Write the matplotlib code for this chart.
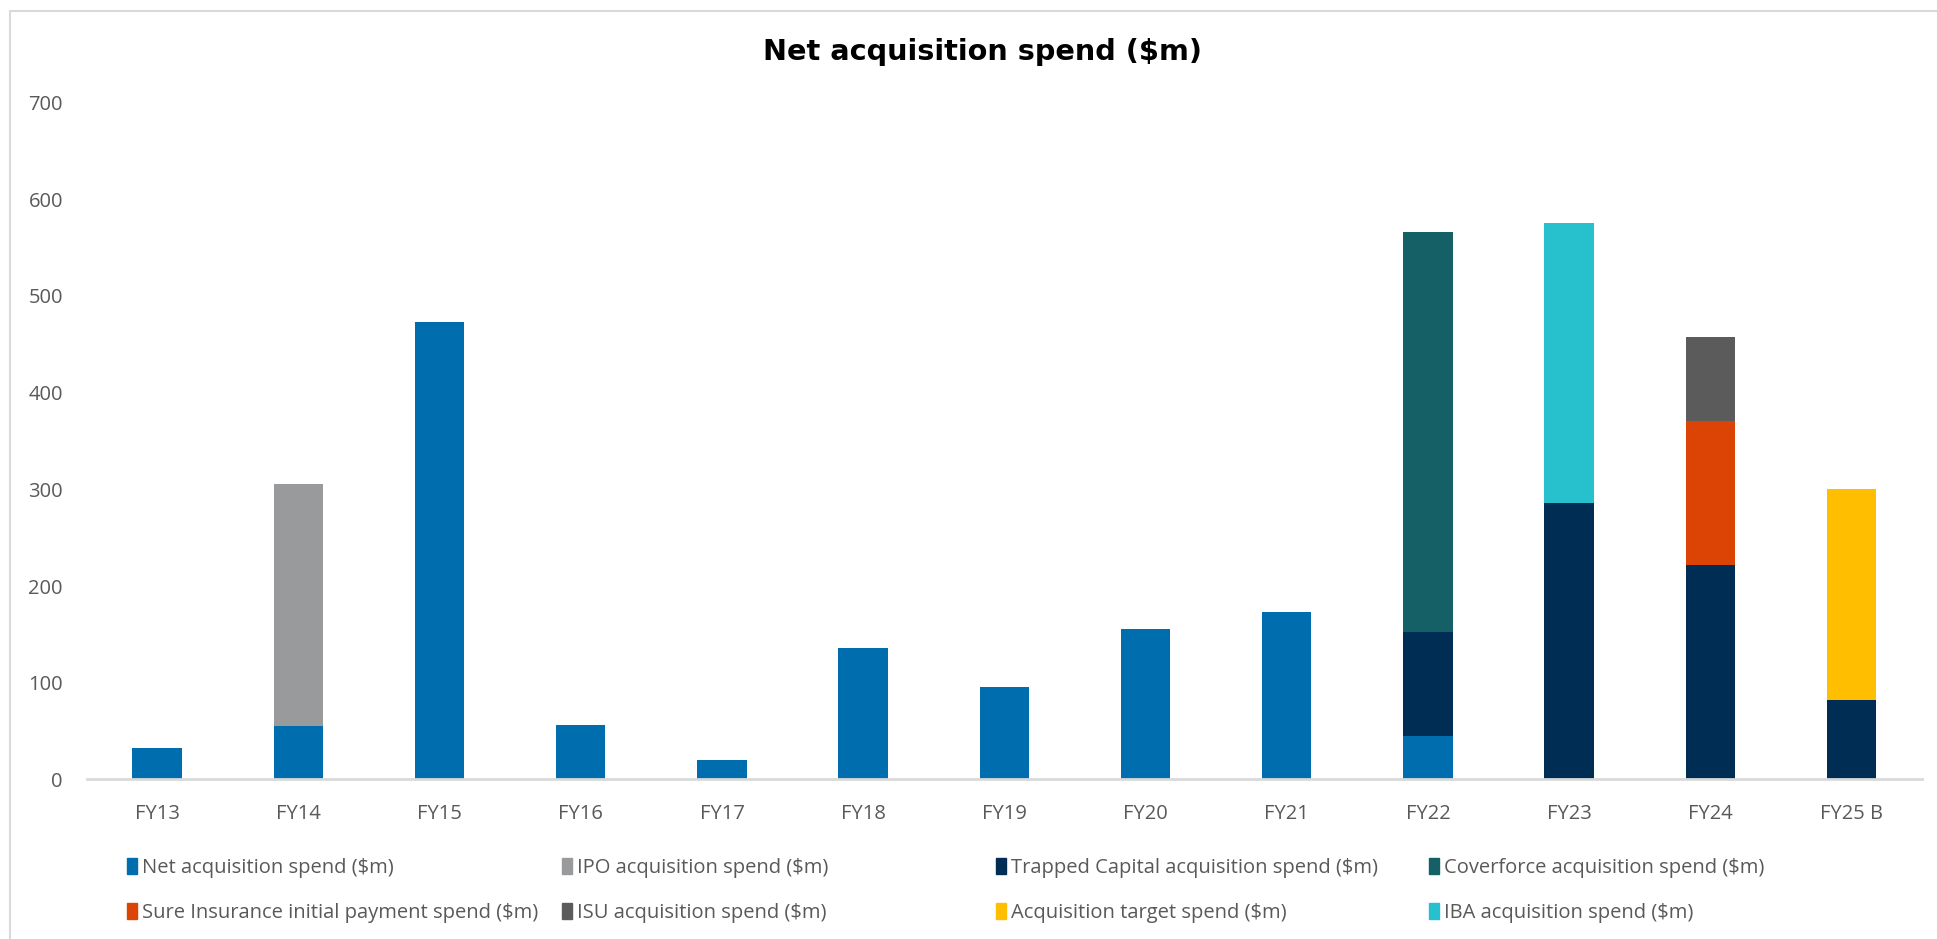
import matplotlib.pyplot as plt
import matplotlib.patches as mpatches
import numpy as np

years = ["FY13", "FY14", "FY15", "FY16", "FY17", "FY18", "FY19",
         "FY20", "FY21", "FY22", "FY23", "FY24", "FY25 B"]

net_spend = [33, 55, 473, 56, 20, 136, 96, 156, 173, 45, 0, 0, 0]
ipo_spend = [0, 251, 0, 0, 0, 0, 0, 0, 0, 0, 0, 0, 0]
trapped_spend = [0, 0, 0, 0, 0, 0, 0, 0, 0, 108, 286, 222, 82]
coverforce_spend = [0, 0, 0, 0, 0, 0, 0, 0, 0, 413, 0, 0, 0]
sure_spend = [0, 0, 0, 0, 0, 0, 0, 0, 0, 0, 0, 149, 0]
isu_spend = [0, 0, 0, 0, 0, 0, 0, 0, 0, 0, 0, 87, 0]
target_spend = [0, 0, 0, 0, 0, 0, 0, 0, 0, 0, 0, 0, 218]
iba_spend = [0, 0, 0, 0, 0, 0, 0, 0, 0, 0, 289, 0, 0]

# stacking order bottom -> top, legend order follows the same list
series = [
    ("Net acquisition spend ($m)", net_spend, "#006DAE"),
    ("IPO acquisition spend ($m)", ipo_spend, "#999A9C"),
    ("Trapped Capital acquisition spend ($m)", trapped_spend, "#002D54"),
    ("Coverforce acquisition spend ($m)", coverforce_spend, "#146066"),
    ("Sure Insurance initial payment spend ($m)", sure_spend, "#DC4405"),
    ("ISU acquisition spend ($m)", isu_spend, "#5B5B5B"),
    ("Acquisition target spend ($m)", target_spend, "#FFBE00"),
    ("IBA acquisition spend ($m)", iba_spend, "#26C1CC"),
]

font = "Open Sans"
grey = "#595959"

fig = plt.figure(figsize=(19.37, 9.39), dpi=100)
ax = fig.add_axes([0.0447, 0.1699, 0.9476, 0.7209])

x = np.arange(len(years))
bottom = np.zeros(len(years))
handles = []
for label, values, color in series:
    values = np.array(values, dtype=float)
    ax.bar(x, values, 0.35, bottom=bottom, color=color, linewidth=0)
    bottom += values
    handles.append(mpatches.Patch(color=color, label=label))

ax.set_xlim(-0.5, len(years) - 0.5)
ax.set_ylim(0, 700)
ax.set_yticks(range(0, 701, 100))
ax.set_xticks(x)
ax.set_xticklabels(years)

for side in ["top", "right", "left"]:
    ax.spines[side].set_visible(False)
ax.spines["bottom"].set_color("#D9D9D9")
ax.spines["bottom"].set_linewidth(2)
ax.tick_params(axis="both", length=0, colors=grey, labelsize=14.5)
ax.tick_params(axis="y", pad=17)
ax.tick_params(axis="x", pad=18)
for lbl in ax.get_xticklabels() + ax.get_yticklabels():
    lbl.set_fontfamily(font)

fig.text(0.507, 0.945, "Net acquisition spend ($m)", ha="center", va="center",
         fontsize=20.7, fontweight="bold", family="DejaVu Sans", color="black")

# legend laid out as 4 equal columns of two rows
col_x = [127, 562, 996, 1429]
for i, cx in enumerate(col_x):
    leg = fig.legend(handles=[handles[i], handles[i + 4]],
                     loc="center left", bbox_to_anchor=(cx / 1937, 0.0516),
                     frameon=False, borderpad=0, borderaxespad=0,
                     handlelength=0.5, handleheight=0.8, handletextpad=0.25,
                     labelspacing=1.25,
                     prop={"family": font, "size": 14.5})
    for t in leg.get_texts():
        t.set_color(grey)

# chart frame
fig.patches.append(mpatches.Rectangle((10 / 1937, -0.01), 2.0, 1 - 11 / 939 + 0.01,
                                      transform=fig.transFigure, fill=False,
                                      edgecolor="#D9D9D9", linewidth=1.5))

fig.savefig("out.png", dpi=100)
